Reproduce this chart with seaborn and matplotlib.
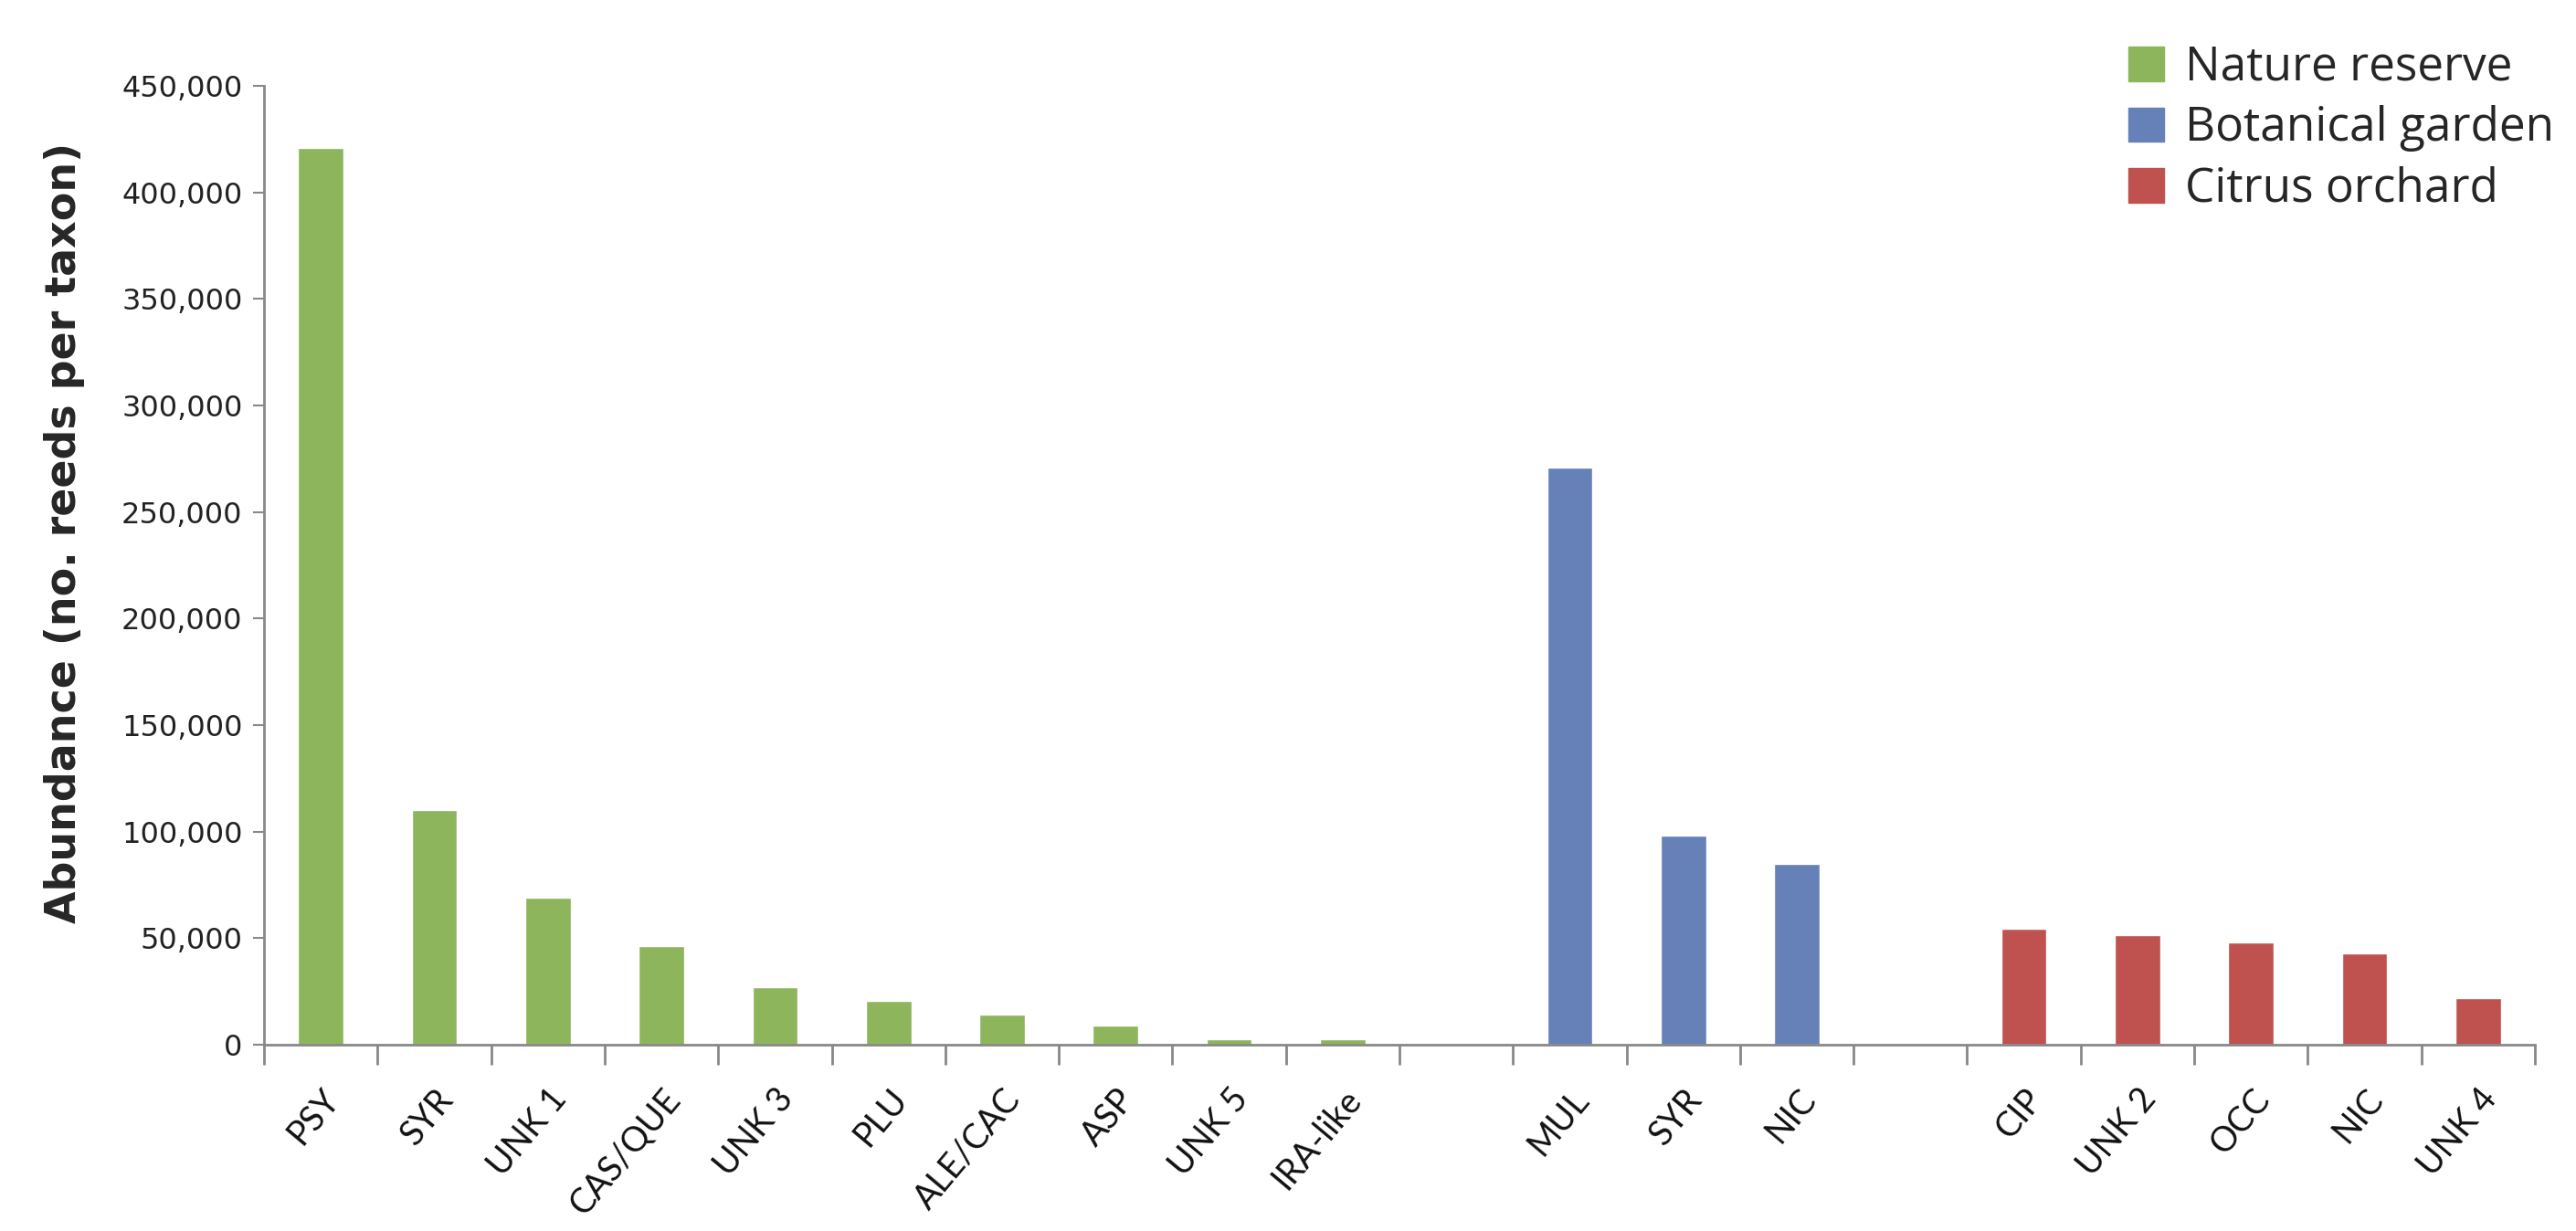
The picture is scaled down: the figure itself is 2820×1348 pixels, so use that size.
import pandas as pd
import matplotlib.pyplot as plt
import matplotlib.patches as mpatches
from matplotlib.ticker import FuncFormatter, FixedLocator
import seaborn as sns

# data
nature_taxa = ['PSY', 'SYR', 'UNK 1', 'CAS/QUE', 'UNK 3', 'PLU', 'ALE/CAC', 'ASP', 'UNK 5', 'IRA-like']
nature_vals = [421000, 110000, 69000, 46500, 27000, 20500, 14000, 9000, 2500, 2500]
garden_taxa = ['MUL', 'SYR', 'NIC']
garden_vals = [271000, 98000, 85000]
orchard_taxa = ['CIP', 'UNK 2', 'OCC', 'NIC', 'UNK 4']
orchard_vals = [54500, 51500, 48000, 43000, 22000]

groups = ['Nature reserve', 'Botanical garden', 'Citrus orchard']
colors = {'Nature reserve': '#8db55b', 'Botanical garden': '#6680b8', 'Citrus orchard': '#bf524f'}

rows = []
order = []
tick_labels = []
for g, taxa, vals in zip(groups, [nature_taxa, garden_taxa, orchard_taxa],
                         [nature_vals, garden_vals, orchard_vals]):
    if order:
        # one empty slot between sites
        order.append('gap ' + g)
        tick_labels.append('')
    for t, v in zip(taxa, vals):
        key = g + ':' + t
        rows.append({'key': key, 'site': g, 'reads': v})
        order.append(key)
        tick_labels.append(t)
df = pd.DataFrame(rows)

sns.set_style('white')
axis_col = '#888888'

fig = plt.figure(figsize=(28.2, 13.48), dpi=100)
ax = fig.add_axes([0.1025, 0.1513, 0.8815, 0.779])

sns.barplot(data=df, x='key', y='reads', hue='site', order=order,
            palette=colors, saturation=1, width=0.4, dodge=False, legend=False, ax=ax)

ax.set_xlim(-0.5, len(order) - 0.5)
ax.set_ylim(0, 450000)
ax.set_yticks(range(0, 450001, 50000))
ax.yaxis.set_major_formatter(FuncFormatter(lambda x, p: f'{x:,.0f}'))

ax.set_xticks(range(len(order)))
ax.set_xticklabels(tick_labels, rotation=50, ha='right', rotation_mode='anchor',
                   fontsize=27, family='Lato', color='#111111')
ax.xaxis.set_minor_locator(FixedLocator([i - 0.5 for i in range(len(order) + 1)]))
ax.tick_params(axis='x', which='major', length=0, pad=30)
ax.tick_params(axis='x', which='minor', length=16, width=2, color=axis_col, direction='out')
ax.tick_params(axis='y', length=9, width=1.5, color=axis_col, direction='out',
               labelsize=23, labelcolor='#222222', pad=8)
ax.tick_params(bottom=True, left=True, which='both')

for s in ['top', 'right']:
    ax.spines[s].set_visible(False)
for s in ['left', 'bottom']:
    ax.spines[s].set_color(axis_col)
    ax.spines[s].set_linewidth(2)

ax.set_xlabel('')
ax.set_ylabel('Abundance (no. reeds per taxon)', fontsize=33, fontweight='bold',
              family='DejaVu Sans')
ax.yaxis.set_label_coords(-0.079, 0.534, transform=ax.transAxes)

handles = [mpatches.Patch(color=colors[g], label=g) for g in groups]
fig.legend(handles=handles, loc='upper left', bbox_to_anchor=(0.81, 0.998),
           frameon=False, prop={'family': 'Open Sans', 'size': 37},
           handlelength=0.75, handleheight=0.75, handletextpad=0.45, labelspacing=0.3)

fig.savefig('out.png', dpi=100)
